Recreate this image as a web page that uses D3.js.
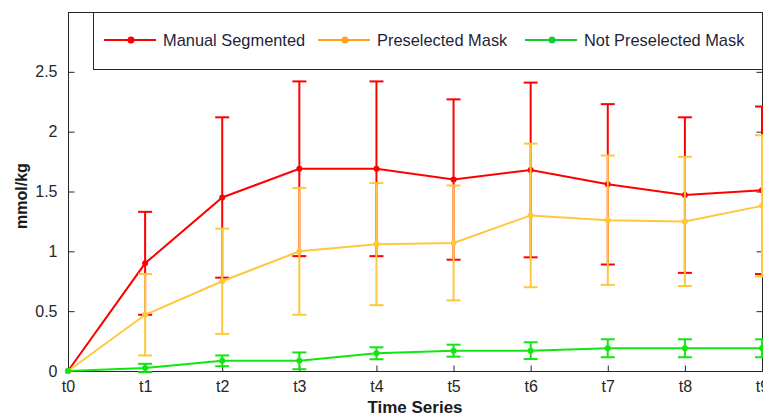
<!DOCTYPE html>
<html><head><meta charset="utf-8">
<script src="https://cdn.jsdelivr.net/npm/d3@7"></script>
<style>html,body{margin:0;padding:0;background:#fff;}svg{display:block;font-family:Arial,"Liberation Sans",sans-serif;}</style>
</head><body>
<script>
const categories = ["t0","t1","t2","t3","t4","t5","t6","t7","t8","t9"];
const manualValues = [0, 0.90, 1.45, 1.69, 1.69, 1.60, 1.68, 1.56, 1.47, 1.51];
const manualErrors = [0, 0.43, 0.67, 0.73, 0.73, 0.67, 0.73, 0.67, 0.65, 0.70];
const preselValues = [0, 0.47, 0.75, 1.00, 1.06, 1.07, 1.30, 1.26, 1.25, 1.38];
const preselErrors = [0, 0.34, 0.44, 0.53, 0.51, 0.48, 0.60, 0.54, 0.54, 0.59];
const notPreselValues = [0, 0.025, 0.085, 0.085, 0.148, 0.17, 0.17, 0.19, 0.19, 0.19];
const notPreselErrors = [0, 0.035, 0.045, 0.07, 0.05, 0.05, 0.07, 0.075, 0.075, 0.075];
const yTicks = [0, 0.5, 1, 1.5, 2, 2.5];
const seriesNames = ["Manual Segmented", "Preselected Mask", "Not Preselected Mask"];

const W = 763, H = 417;
const svg = d3.select("body").append("svg").attr("width", W).attr("height", H);
const x = d3.scalePoint().domain(categories).range([68, 762]);
const y = d3.scaleLinear().domain([0, 3]).range([371, 12]);

const series = [
  {name: seriesNames[0], vals: manualValues, errs: manualErrors, color: "#ff0000", legendColor: "#ff0000"},
  {name: seriesNames[1], vals: preselValues, errs: preselErrors, color: "#ffc83c", legendColor: "#ffa31a"},
  {name: seriesNames[2], vals: notPreselValues, errs: notPreselErrors, color: "#11e611", legendColor: "#11cc33"}
];

const axCol = "#262626";
const gAx = svg.append("g");
gAx.append("rect").attr("x", 68.5).attr("y", 12.5).attr("width", 762 - 68).attr("height", 371 - 12)
  .attr("fill", "none").attr("stroke", axCol).attr("stroke-width", 1);

const gy = svg.append("g").call(d3.axisLeft(y).tickValues(yTicks).tickSize(-6).tickPadding(11).tickFormat(d3.format("~g")))
  .attr("transform", "translate(68.5,0)");
gy.select(".domain").remove();
gy.selectAll("line").attr("stroke", axCol);
gy.selectAll("text").attr("font-size", 16).attr("fill", axCol).attr("font-family", "Arial, 'Liberation Sans', sans-serif");
const gyr = svg.append("g").call(d3.axisRight(y).tickValues(yTicks).tickSize(-6).tickFormat(""))
  .attr("transform", "translate(762.5,0)");
gyr.select(".domain").remove();
gyr.selectAll("line").attr("stroke", axCol);

const gx = svg.append("g").call(d3.axisBottom(x).tickSize(-6).tickPadding(9))
  .attr("transform", "translate(0,371.5)");
gx.select(".domain").remove();
gx.selectAll("line").attr("stroke", axCol);
gx.selectAll("text").attr("font-size", 16).attr("fill", axCol).attr("font-family", "Arial, 'Liberation Sans', sans-serif");
const gxt = svg.append("g").call(d3.axisTop(x).tickSize(-6).tickFormat(""))
  .attr("transform", "translate(0,12.5)");
gxt.select(".domain").remove();
gxt.selectAll("line").attr("stroke", axCol);

const line = d3.line().x((d, i) => x(categories[i])).y(d => y(d));
series.forEach(s => {
  const g = svg.append("g");
  g.append("path").datum(s.vals).attr("d", line).attr("fill", "none").attr("stroke", s.color).attr("stroke-width", 2);
  const idx = d3.range(1, categories.length);
  idx.forEach(i => {
    const cx = x(categories[i]);
    const lo = y(s.vals[i] - s.errs[i]), hi = y(s.vals[i] + s.errs[i]);
    g.append("line").attr("x1", cx).attr("x2", cx).attr("y1", lo).attr("y2", hi).attr("stroke", s.color).attr("stroke-width", 2);
    g.append("line").attr("x1", cx - 7).attr("x2", cx + 7).attr("y1", lo).attr("y2", lo).attr("stroke", s.color).attr("stroke-width", 2);
    g.append("line").attr("x1", cx - 7).attr("x2", cx + 7).attr("y1", hi).attr("y2", hi).attr("stroke", s.color).attr("stroke-width", 2);
  });
  g.selectAll("circle").data(s.vals).enter().append("circle")
    .attr("cx", (d, i) => x(categories[i])).attr("cy", d => y(d)).attr("r", 3).attr("fill", s.color);
});

const lg = svg.append("g");
lg.append("rect").attr("x", 93.5).attr("y", 12.5).attr("width", 762 - 93).attr("height", 57)
  .attr("fill", "#fff").attr("stroke", axCol).attr("stroke-width", 1);
const legendX = [104, 318, 525];
series.forEach((s, i) => {
  const lx = legendX[i], ly = 40;
  lg.append("line").attr("x1", lx).attr("x2", lx + 52).attr("y1", ly).attr("y2", ly).attr("stroke", s.legendColor).attr("stroke-width", 2);
  lg.append("circle").attr("cx", lx + 27).attr("cy", ly).attr("r", 3.5).attr("fill", s.legendColor);
  lg.append("text").attr("x", lx + 59).attr("y", ly).attr("dy", "0.35em").attr("font-size", 16.4).attr("fill", "#1f1f3a").text(s.name);
});

svg.append("text").attr("x", 415).attr("y", 413).attr("text-anchor", "middle").attr("font-weight", "bold")
  .attr("font-size", 17).attr("fill", "#1a1a1a").text("Time Series");
svg.append("text").attr("transform", "translate(27,196) rotate(-90)").attr("text-anchor", "middle").attr("font-weight", "bold")
  .attr("font-size", 16).attr("fill", "#1a1a1a").text("mmol/kg");
</script>
</body></html>
